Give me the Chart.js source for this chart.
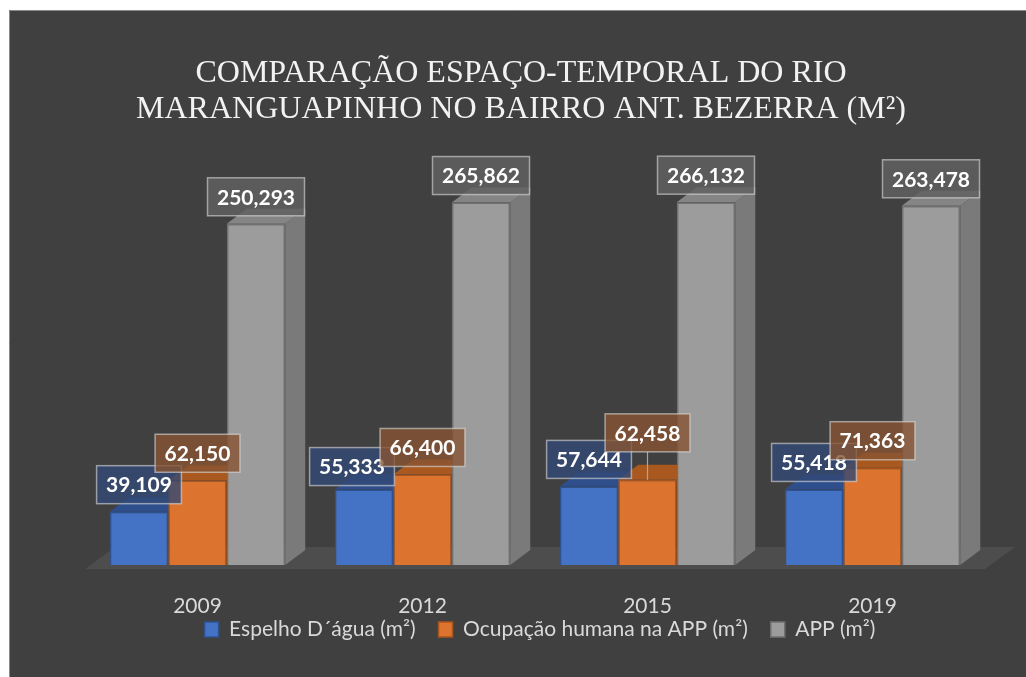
<!DOCTYPE html>
<html>
<head>
<meta charset="utf-8">
<script src="https://cdn.jsdelivr.net/npm/chart.js@4.4.1/dist/chart.umd.min.js"></script>
<style>
  html, body { margin: 0; padding: 0; background: #fff; }
  #wrap { position: absolute; left: 0; top: 0; width: 1026px; height: 677px; }
</style>
</head>
<body>
<div id="wrap"><canvas id="chart" width="1026" height="677"></canvas></div>
<script>
const years = ['2009', '2012', '2015', '2019'];
const espelho = [39109, 55333, 57644, 55418];
const ocupacao = [62150, 66400, 62458, 71363];
const app = [250293, 265862, 266132, 263478];
const seriesNames = ['Espelho D´água (m²)', 'Ocupação humana na APP (m²)', 'APP (m²)'];
const titleLines = ['COMPARAÇÃO ESPAÇO-TEMPORAL DO RIO', 'MARANGUAPINHO NO BAIRRO ANT. BEZERRA (M²)'];

// face colours per series: front, border, top, side, label box
const faces = [
  { front: '#4472c4', border: '#2f528f', top: '#2f4f8c', side: '#2a4678', box: 'rgba(50,72,118,0.8)' },
  { front: '#dc7430', border: '#a9541c', top: '#a9591f', side: '#94501d', box: 'rgba(135,84,50,0.8)' },
  { front: '#9c9c9c', border: '#707070', top: '#858585', side: '#7a7a7a', box: 'rgba(96,96,96,0.85)' },
];

const fmt = v => v.toLocaleString('en-US');

// dark panel behind the whole chart
const panel = {
  id: 'panel',
  beforeDraw(chart) {
    const ctx = chart.ctx;
    ctx.save();
    ctx.fillStyle = '#ffffff';
    ctx.fillRect(0, 0, chart.width, chart.height);
    ctx.fillStyle = '#404040';
    ctx.fillRect(9, 10, chart.width - 9, chart.height - 10);
    ctx.strokeStyle = '#8a8a8a';
    ctx.lineWidth = 1;
    ctx.beginPath();
    ctx.moveTo(9.5, chart.height);
    ctx.lineTo(9.5, 10.5);
    ctx.lineTo(chart.width, 10.5);
    ctx.stroke();
    ctx.restore();
  }
};

// nudge legend up/right, Excel put it closer to the axis labels
const legendNudge = {
  id: 'legendNudge',
  afterLayout(chart) {
    const lg = chart.legend;
    if (!lg) return;
    lg.top -= 21; lg.bottom -= 21;
    lg.left += 5; lg.right += 5;
  }
};

// 3D floor + side/top faces, all drawn before the front faces
const bars3d = {
  id: 'bars3d',
  beforeDatasetsDraw(chart) {
    const ctx = chart.ctx;
    const { left, right, bottom } = chart.chartArea;
    ctx.save();
    // floor
    const fx = 30, fy = 22, y0 = bottom + 4;
    ctx.fillStyle = '#4d4d4d';
    ctx.beginPath();
    ctx.moveTo(left, y0);
    ctx.lineTo(right, y0);
    ctx.lineTo(right + fx, y0 - fy);
    ctx.lineTo(left + fx, y0 - fy);
    ctx.closePath();
    ctx.fill();

    const dx = 20, dy = 15;
    chart.data.datasets.forEach((ds, i) => {
      const f = faces[i];
      chart.getDatasetMeta(i).data.forEach(bar => {
        const l = bar.x - bar.width / 2, r = bar.x + bar.width / 2;
        const t = bar.y, b = bar.base;
        ctx.fillStyle = f.side;
        ctx.beginPath();
        ctx.moveTo(r, t);
        ctx.lineTo(r + dx, t - dy);
        ctx.lineTo(r + dx, b - dy);
        ctx.lineTo(r, b);
        ctx.closePath();
        ctx.fill();
        ctx.fillStyle = f.top;
        ctx.beginPath();
        ctx.moveTo(l, t);
        ctx.lineTo(l + dx, t - dy);
        ctx.lineTo(r + dx, t - dy);
        ctx.lineTo(r, t);
        ctx.closePath();
        ctx.fill();
      });
    });
    ctx.restore();
  }
};

// boxed value labels; a couple were moved by hand in the original
const nudges = { '0-1': [-12, 4], '1-2': [0, -20] };
const valueBoxes = {
  id: 'valueBoxes',
  afterDatasetsDraw(chart) {
    const ctx = chart.ctx;
    ctx.save();
    ctx.font = 'bold 21px Lato';
    ctx.textAlign = 'center';
    ctx.textBaseline = 'middle';
    chart.data.datasets.forEach((ds, i) => {
      const meta = chart.getDatasetMeta(i);
      meta.data.forEach((bar, j) => {
        const txt = fmt(ds.data[j]);
        const [nx, ny] = nudges[i + '-' + j] || [0, 0];
        const w = ctx.measureText(txt).width + 19, h = 38;
        const cx = bar.x + nx;
        const bx = cx - w / 2, by = bar.y - 8 - h + ny;
        if (ny < 0) {
          ctx.strokeStyle = '#a6a6a6';
          ctx.lineWidth = 1.2;
          ctx.beginPath();
          ctx.moveTo(cx, by + h);
          ctx.lineTo(bar.x, bar.y);
          ctx.stroke();
        }
        ctx.fillStyle = faces[i].box;
        ctx.fillRect(bx, by, w, h);
        ctx.strokeStyle = 'rgba(220,220,220,0.6)';
        ctx.lineWidth = 1.5;
        ctx.strokeRect(bx, by, w, h);
        ctx.fillStyle = '#ffffff';
        ctx.fillText(txt, cx, by + h / 2 + 1);
      });
    });
    ctx.restore();
  }
};

function draw() {
  const series = [espelho, ocupacao, app];
  new Chart(document.getElementById('chart'), {
    type: 'bar',
    data: {
      labels: years,
      datasets: series.map((d, i) => ({
        label: seriesNames[i],
        data: d,
        backgroundColor: faces[i].front,
        borderColor: faces[i].border,
        borderWidth: 1.5,
        categoryPercentage: 0.78,
        barPercentage: 1,
      })),
    },
    options: {
      responsive: false,
      animation: false,
      devicePixelRatio: 1,
      layout: { padding: { left: 57, right: 41, top: 56, bottom: 6 } },
      scales: {
        x: {
          grid: { display: false },
          border: { display: false },
          ticks: { color: '#d9d9d9', font: { family: 'Lato', size: 21 }, padding: 21 },
          afterFit(s) { s.height = 52; },
        },
        y: {
          min: 0,
          max: 300000,
          grid: { display: false },
          border: { display: false },
          ticks: { display: false },
          afterFit(s) { s.width = 28; },
        },
      },
      plugins: {
        title: {
          display: true,
          text: titleLines,
          color: '#f2f2f2',
          font: { family: 'Liberation Serif', size: 32, weight: 'normal', lineHeight: 1.125 },
          padding: { top: 0, bottom: 28 },
        },
        legend: {
          position: 'bottom',
          fullSize: false,
          labels: {
            color: '#d9d9d9',
            font: { family: 'Lato', size: 21 },
            boxWidth: 14,
            boxHeight: 15,
            padding: 23,
          },
        },
        tooltip: { enabled: false },
      },
    },
    plugins: [panel, legendNudge, bars3d, valueBoxes],
  });
}

Promise.all([
  document.fonts.load('21px Lato'),
  document.fonts.load('bold 21px Lato'),
  document.fonts.load('32px "Liberation Serif"'),
]).then(draw, draw);
</script>
</body>
</html>
